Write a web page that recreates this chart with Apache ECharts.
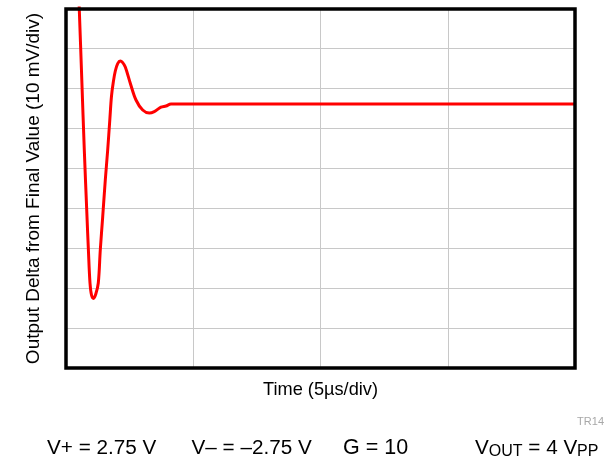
<!DOCTYPE html>
<html>
<head>
<meta charset="utf-8">
<script src="https://cdn.jsdelivr.net/npm/echarts@6/dist/echarts.min.js"></script>
<style>
html,body{margin:0;padding:0;background:#fff;}
#chart{width:613px;height:461px;}
</style>
</head>
<body>
<div id="chart"></div>
<script>
// Time in microseconds (5 µs/div, 4 divisions)
var timeUs = [0.432, 0.523, 0.621, 0.719, 0.825, 0.880, 0.943, 1.002, 1.081, 1.171, 1.269, 1.347, 1.442, 1.544, 1.638, 1.721, 1.788, 1.859, 1.937, 2.031, 2.134, 2.220, 2.330, 2.526, 2.750, 3.013, 3.272, 3.469, 3.733, 3.929, 4.126, 19.96];
// Output (mV, 10 mV/div, measured from bottom of plot)
var outputMv = [104.5, 89.5, 72, 54.5, 37.8, 29.5, 21.25, 18.25, 17.4, 18.5, 21.25, 29.5, 37.8, 47, 54.5, 62, 68, 71.5, 74.25, 76.1, 76.75, 76.4, 75.25, 71.2, 67, 64.5, 63.75, 64.1, 65.2, 65.5, 66, 66];
var xTicks = [0, 5, 10, 15, 20];
var yTicks = [0, 10, 20, 30, 40, 50, 60, 70, 80, 90];

var xLabel = 'Time (5µs/div)';
var yLabel = 'Output Delta from Final Value (10 mV/div)';

var chart = echarts.init(document.getElementById('chart'), null, {renderer: 'canvas'});
var data = timeUs.map(function (t, i) { return [t, outputMv[i]]; });
var font = 'Liberation Sans, Arial, Helvetica, sans-serif';

function txt(id, x, y, text, size, opts) {
  opts = opts || {};
  return {
    type: 'text', id: id, x: x, y: y, rotation: opts.rotation || 0, z: 50,
    style: {text: text, font: size + 'px ' + font, fill: opts.fill || '#000',
            textAlign: opts.align || 'left', textVerticalAlign: 'middle'}
  };
}

chart.setOption({
  animation: false,
  backgroundColor: '#fff',
  grid: {left: 66, top: 8, right: 38, bottom: 93, show: false},
  xAxis: {
    type: 'value', min: xTicks[0], max: xTicks[xTicks.length - 1], interval: 5,
    axisLine: {show: false}, axisTick: {show: false}, axisLabel: {show: false},
    splitLine: {show: true, lineStyle: {color: '#c8c8c8', width: 1}}
  },
  yAxis: {
    type: 'value', min: yTicks[0], max: yTicks[yTicks.length - 1], interval: 10,
    axisLine: {show: false}, axisTick: {show: false}, axisLabel: {show: false},
    splitLine: {show: true, lineStyle: {color: '#c8c8c8', width: 1}}
  },
  series: [{
    type: 'line', data: data, showSymbol: false, symbol: 'none',
    smooth: 0.35, clip: true,
    lineStyle: {color: '#ff0000', width: 3}
  }],
  graphic: [
    txt('ylab', 34, 188.5, yLabel, 19, {rotation: Math.PI / 2, align: 'center'}),
    txt('xlab', 320.5, 389.5, xLabel, 18.2, {align: 'center'}),
    txt('tr', 604, 422, 'TR14', 11, {align: 'right', fill: '#a8a8a8'}),
    txt('c1', 47, 448.5, 'V+ = 2.75 V', 20.7),
    txt('c2', 191.5, 448.5, 'V– = –2.75 V', 20.7),
    txt('c3', 343, 448.5, 'G = 10', 21.5),
    txt('c4', 475, 448.5, 'V', 20.7),
    txt('c5', 488.8, 452, 'OUT', 16),
    txt('c6', 522.6, 448.5, ' = 4 V', 20.7),
    txt('c7', 577, 452, 'PP', 16)
  ]
});

// Plot frame drawn from the axis scale corners
var p0 = chart.convertToPixel({gridIndex: 0}, [xTicks[0], yTicks[yTicks.length - 1]]);
var p1 = chart.convertToPixel({gridIndex: 0}, [xTicks[xTicks.length - 1], yTicks[0]]);
chart.setOption({
  graphic: [{
    type: 'rect', id: 'frame', z: 100,
    shape: {x: p0[0], y: p0[1] + 1, width: p1[0] - p0[0], height: p1[1] - p0[1] - 1},
    style: {fill: 'none', stroke: '#000', lineWidth: 3.5}
  }]
});
</script>
</body>
</html>
